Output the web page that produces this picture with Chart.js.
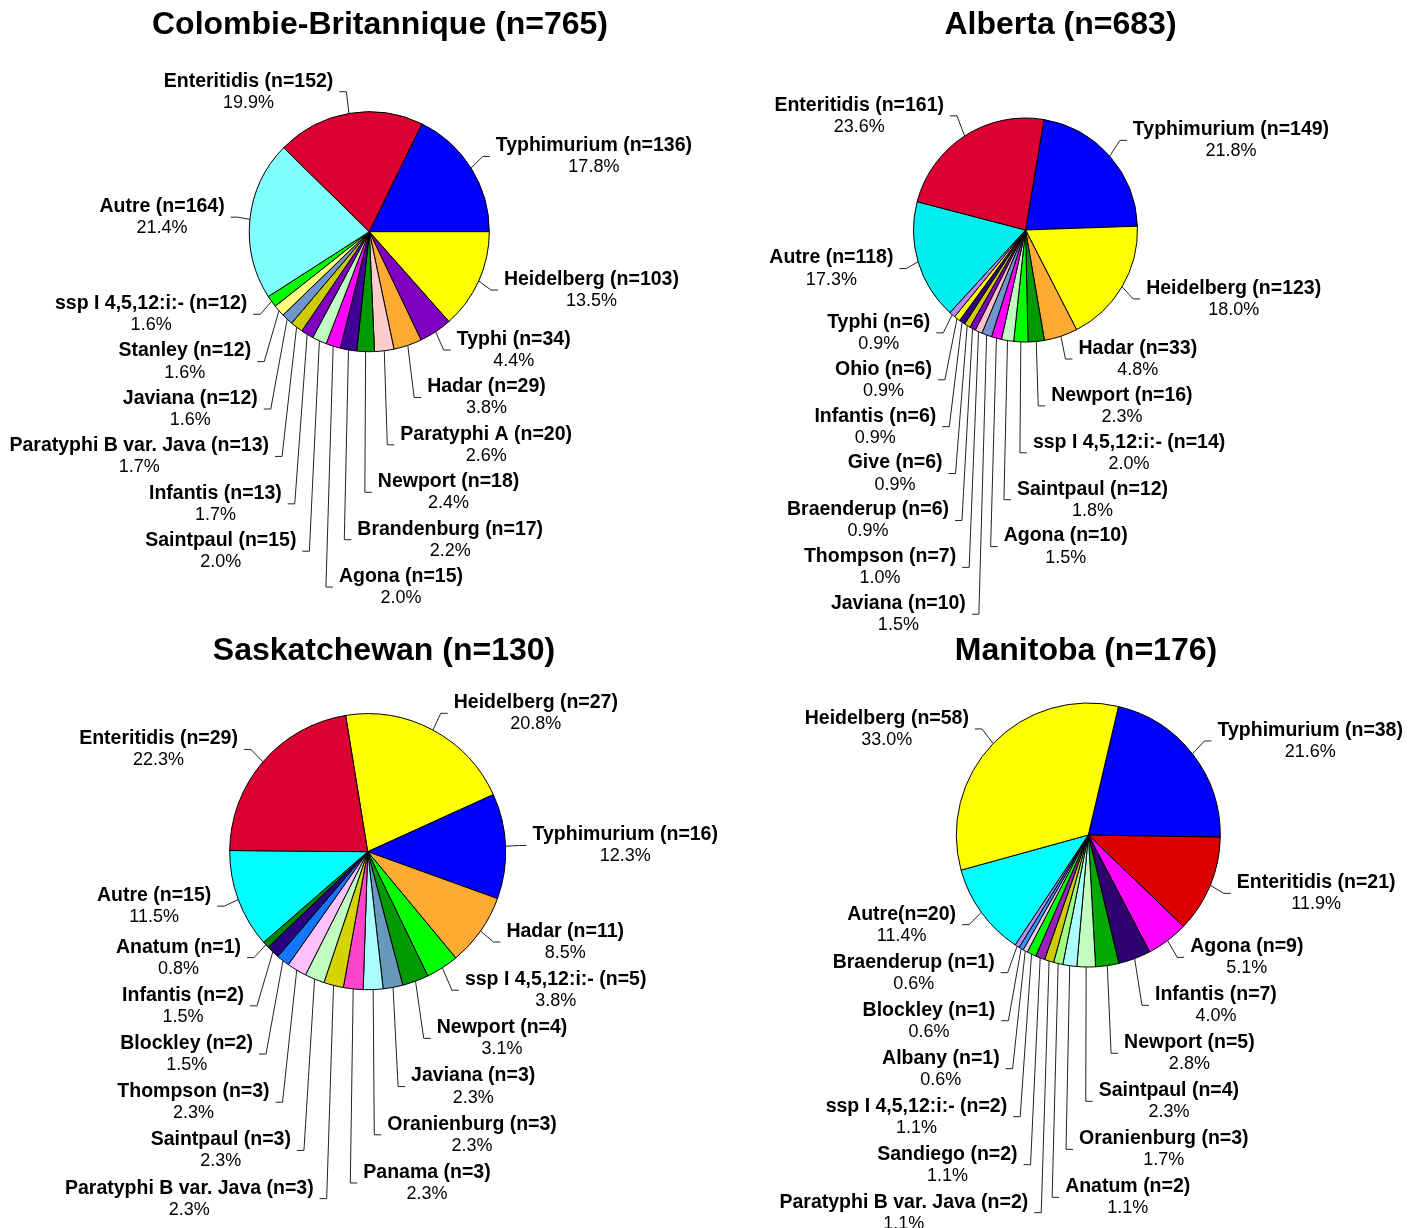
<!DOCTYPE html>
<html>
<head>
<meta charset="utf-8">
<title>Sérotypes de Salmonella par province</title>
<script src="https://cdn.jsdelivr.net/npm/chart.js@4.4.0/dist/chart.umd.min.js"></script>
<style>
html, body { margin: 0; padding: 0; background: #fff; }
#wrap { position: relative; width: 1424px; height: 1228px; overflow: hidden; }
.pane { position: absolute; left: 0; top: 0; width: 1424px; height: 1228px; }
</style>
</head>
<body>
<div id="wrap">
  <div class="pane"><canvas id="pie-bc"></canvas></div>
  <div class="pane"><canvas id="pie-ab"></canvas></div>
  <div class="pane"><canvas id="pie-sk"></canvas></div>
  <div class="pane"><canvas id="pie-mb"></canvas></div>
</div>
<script>
// Colombie-Britannique
var bcLabels = ["Typhimurium (n=136)", "Heidelberg (n=103)", "Typhi (n=34)", "Hadar (n=29)", "Paratyphi A (n=20)",
    "Newport (n=18)", "Brandenburg (n=17)", "Agona (n=15)", "Saintpaul (n=15)", "Infantis (n=13)",
    "Paratyphi B var. Java (n=13)", "Javiana (n=12)", "Stanley (n=12)", "ssp I 4,5,12:i:- (n=12)",
    "Autre (n=164)", "Enteritidis (n=152)"];
var bcCounts = [136, 103, 34, 29, 20, 18, 17, 15, 15, 13, 13, 12, 12, 12, 164, 152];
var bcColors = ["#0000FF", "#FFFF00", "#8000C0", "#FFAA33", "#FFCCCC", "#009900", "#400096", "#FF00FF",
    "#C0FFC0", "#8000C0", "#CCCC00", "#7094CC", "#FFFF80", "#00FF00", "#80FFFF", "#DC0032"];

// Alberta
var abLabels = ["Typhimurium (n=149)", "Heidelberg (n=123)", "Hadar (n=33)", "Newport (n=16)",
    "ssp I 4,5,12:i:- (n=14)", "Saintpaul (n=12)", "Agona (n=10)", "Javiana (n=10)", "Thompson (n=7)",
    "Braenderup (n=6)", "Give (n=6)", "Infantis (n=6)", "Ohio (n=6)", "Typhi (n=6)",
    "Autre (n=118)", "Enteritidis (n=161)"];
var abCounts = [149, 123, 33, 16, 14, 12, 10, 10, 7, 6, 6, 6, 6, 6, 118, 161];
var abColors = ["#0000FF", "#FFFF00", "#FFAA33", "#009900", "#00FF00", "#C0FFC0", "#FF00FF", "#7094CC",
    "#FFC0CB", "#8000C0", "#CCCC00", "#330077", "#FFFF00", "#BB88FF", "#00EEEE", "#DC0032"];

// Saskatchewan
var skLabels = ["Heidelberg (n=27)", "Typhimurium (n=16)", "Hadar (n=11)", "ssp I 4,5,12:i:- (n=5)",
    "Newport (n=4)", "Javiana (n=3)", "Oranienburg (n=3)", "Panama (n=3)", "Paratyphi B var. Java (n=3)",
    "Saintpaul (n=3)", "Thompson (n=3)", "Blockley (n=2)", "Infantis (n=2)", "Anatum (n=1)",
    "Autre (n=15)", "Enteritidis (n=29)"];
var skCounts = [27, 16, 11, 5, 4, 3, 3, 3, 3, 3, 3, 2, 2, 1, 15, 29];
var skColors = ["#FFFF00", "#0000FF", "#FFAA33", "#00FF00", "#009900", "#6699BB", "#AAFFFF", "#FF44CC",
    "#D4D400", "#C0FFC0", "#FFC0FF", "#1177FF", "#2B0080", "#008800", "#00FFFF", "#DC0032"];

// Manitoba
var mbLabels = ["Typhimurium (n=38)", "Enteritidis (n=21)", "Agona (n=9)", "Infantis (n=7)", "Newport (n=5)",
    "Saintpaul (n=4)", "Oranienburg (n=3)", "Anatum (n=2)", "Paratyphi B var. Java (n=2)", "Sandiego (n=2)",
    "ssp I 4,5,12:i:- (n=2)", "Albany (n=1)", "Blockley (n=1)", "Braenderup (n=1)",
    "Autre(n=20)", "Heidelberg (n=58)"];
var mbCounts = [38, 21, 9, 7, 5, 4, 3, 2, 2, 2, 2, 1, 1, 1, 20, 58];
var mbColors = ["#0000FF", "#DD0000", "#FF00FF", "#2E0070", "#00AA00", "#C0FFC0", "#AAFFFF", "#A0FF80",
    "#CCCC00", "#9922BB", "#00FF00", "#FFCCFF", "#3399FF", "#BB88FF", "#00FFFF", "#FFFF00"];

var FONT = "'Liberation Sans', Arial, sans-serif";

// labels with elbow leader lines, stacked on each side like the Excel original
var sliceLabels = {
    id: "sliceLabels",
    afterDraw: function(chart, args, o) {
        var ctx = chart.ctx, arcs = chart.getDatasetMeta(0).data;
        var data = chart.data.datasets[0].data, names = chart.data.labels;
        var total = data.reduce(function(a, b) { return a + b; }, 0);
        if (!arcs.length) return;
        var cx = arcs[0].x, cy = arcs[0].y, R = arcs[0].outerRadius;
        var right = [], left = [];

        arcs.forEach(function(arc, i) {
            var mid = (arc.startAngle + arc.endAngle) / 2;
            var deg = (((mid + Math.PI / 2) * 180 / Math.PI) % 360 + 360) % 360;
            var it = {
                i: i, deg: deg,
                ex: cx + R * Math.cos(mid), ey: cy + R * Math.sin(mid),
                y: cy + (R + o.lift) * Math.sin(mid)
            };
            (deg < o.split ? right : left).push(it);
        });
        right.sort(function(a, b) { return a.deg - b.deg; });
        left.sort(function(a, b) { return b.deg - a.deg; });

        ctx.save();
        ctx.textBaseline = "middle";
        ctx.textAlign = "center";
        ctx.fillStyle = "#000";
        ctx.strokeStyle = "#222";
        ctx.lineWidth = 1;

        [[right, 1], [left, -1]].forEach(function(pair) {
            var list = pair[0], s = pair[1];
            for (var k = 1; k < list.length; k++) {
                if (list[k].y < list[k - 1].y + o.step) list[k].y = list[k - 1].y + o.step;
            }
            list.forEach(function(it) {
                var drop = Math.min(1, Math.abs(it.y - it.ey) / 80);
                var kx = cx + (it.ex - cx) * (1.1 + 0.1 * drop);
                ctx.beginPath();
                ctx.moveTo(it.ex, it.ey);
                ctx.lineTo(kx, it.y);
                ctx.lineTo(kx + s * 7, it.y);
                ctx.stroke();

                var name = names[it.i];
                var pct = (data[it.i] / total * 100).toFixed(1) + "%";
                ctx.font = "bold 19.5px " + FONT;
                var w = ctx.measureText(name).width;
                var mx = s > 0 ? kx + 13 + w / 2 : kx - 13 - w / 2;
                ctx.fillText(name, mx, it.y - 10.5);
                ctx.font = "18px " + FONT;
                ctx.fillText(pct, mx, it.y + 11);
            });
        });

        ctx.font = "bold 32px " + FONT;
        ctx.fillText(o.title, o.titleX, o.titleY);
        ctx.restore();
    }
};

function makePie(id, labels, counts, colors, lay) {
    var W = 1424, H = 1228;
    return new Chart(document.getElementById(id).getContext("2d"), {
        type: "pie",
        data: {
            labels: labels,
            datasets: [{
                data: counts,
                backgroundColor: colors,
                borderColor: "#000",
                borderWidth: 1
            }]
        },
        options: {
            responsive: true,
            maintainAspectRatio: false,
            animation: false,
            events: [],
            rotation: lay.rotation,
            radius: lay.r,
            layout: {
                padding: {
                    left: lay.cx - lay.r, right: W - lay.cx - lay.r,
                    top: lay.cy - lay.r, bottom: H - lay.cy - lay.r
                }
            },
            plugins: {
                legend: { display: false },
                tooltip: { enabled: false },
                sliceLabels: {
                    title: lay.title, titleX: lay.titleX, titleY: lay.titleY,
                    split: lay.split, step: lay.step, lift: lay.lift
                }
            }
        },
        plugins: [sliceLabels]
    });
}

makePie("pie-bc", bcLabels, bcCounts, bcColors, {
    title: "Colombie-Britannique (n=765)", titleX: 380, titleY: 25,
    cx: 369.3, cy: 231.7, r: 120, rotation: 26, split: 200, step: 47.4, lift: 22
});
makePie("pie-ab", abLabels, abCounts, abColors, {
    title: "Alberta (n=683)", titleX: 1060.5, titleY: 25,
    cx: 1025.5, cy: 230, r: 112, rotation: 9.5, split: 196, step: 46.9, lift: 24
});
makePie("pie-sk", skLabels, skCounts, skColors, {
    title: "Saskatchewan (n=130)", titleX: 384, titleY: 651,
    cx: 367.7, cy: 851.7, r: 138, rotation: -9.2, split: 190, step: 48.2, lift: 19
});
makePie("pie-mb", mbLabels, mbCounts, mbColors, {
    title: "Manitoba (n=176)", titleX: 1086, titleY: 651,
    cx: 1088.3, cy: 835, r: 132, rotation: 13.2, split: 195, step: 48, lift: 21
});
</script>
</body>
</html>
